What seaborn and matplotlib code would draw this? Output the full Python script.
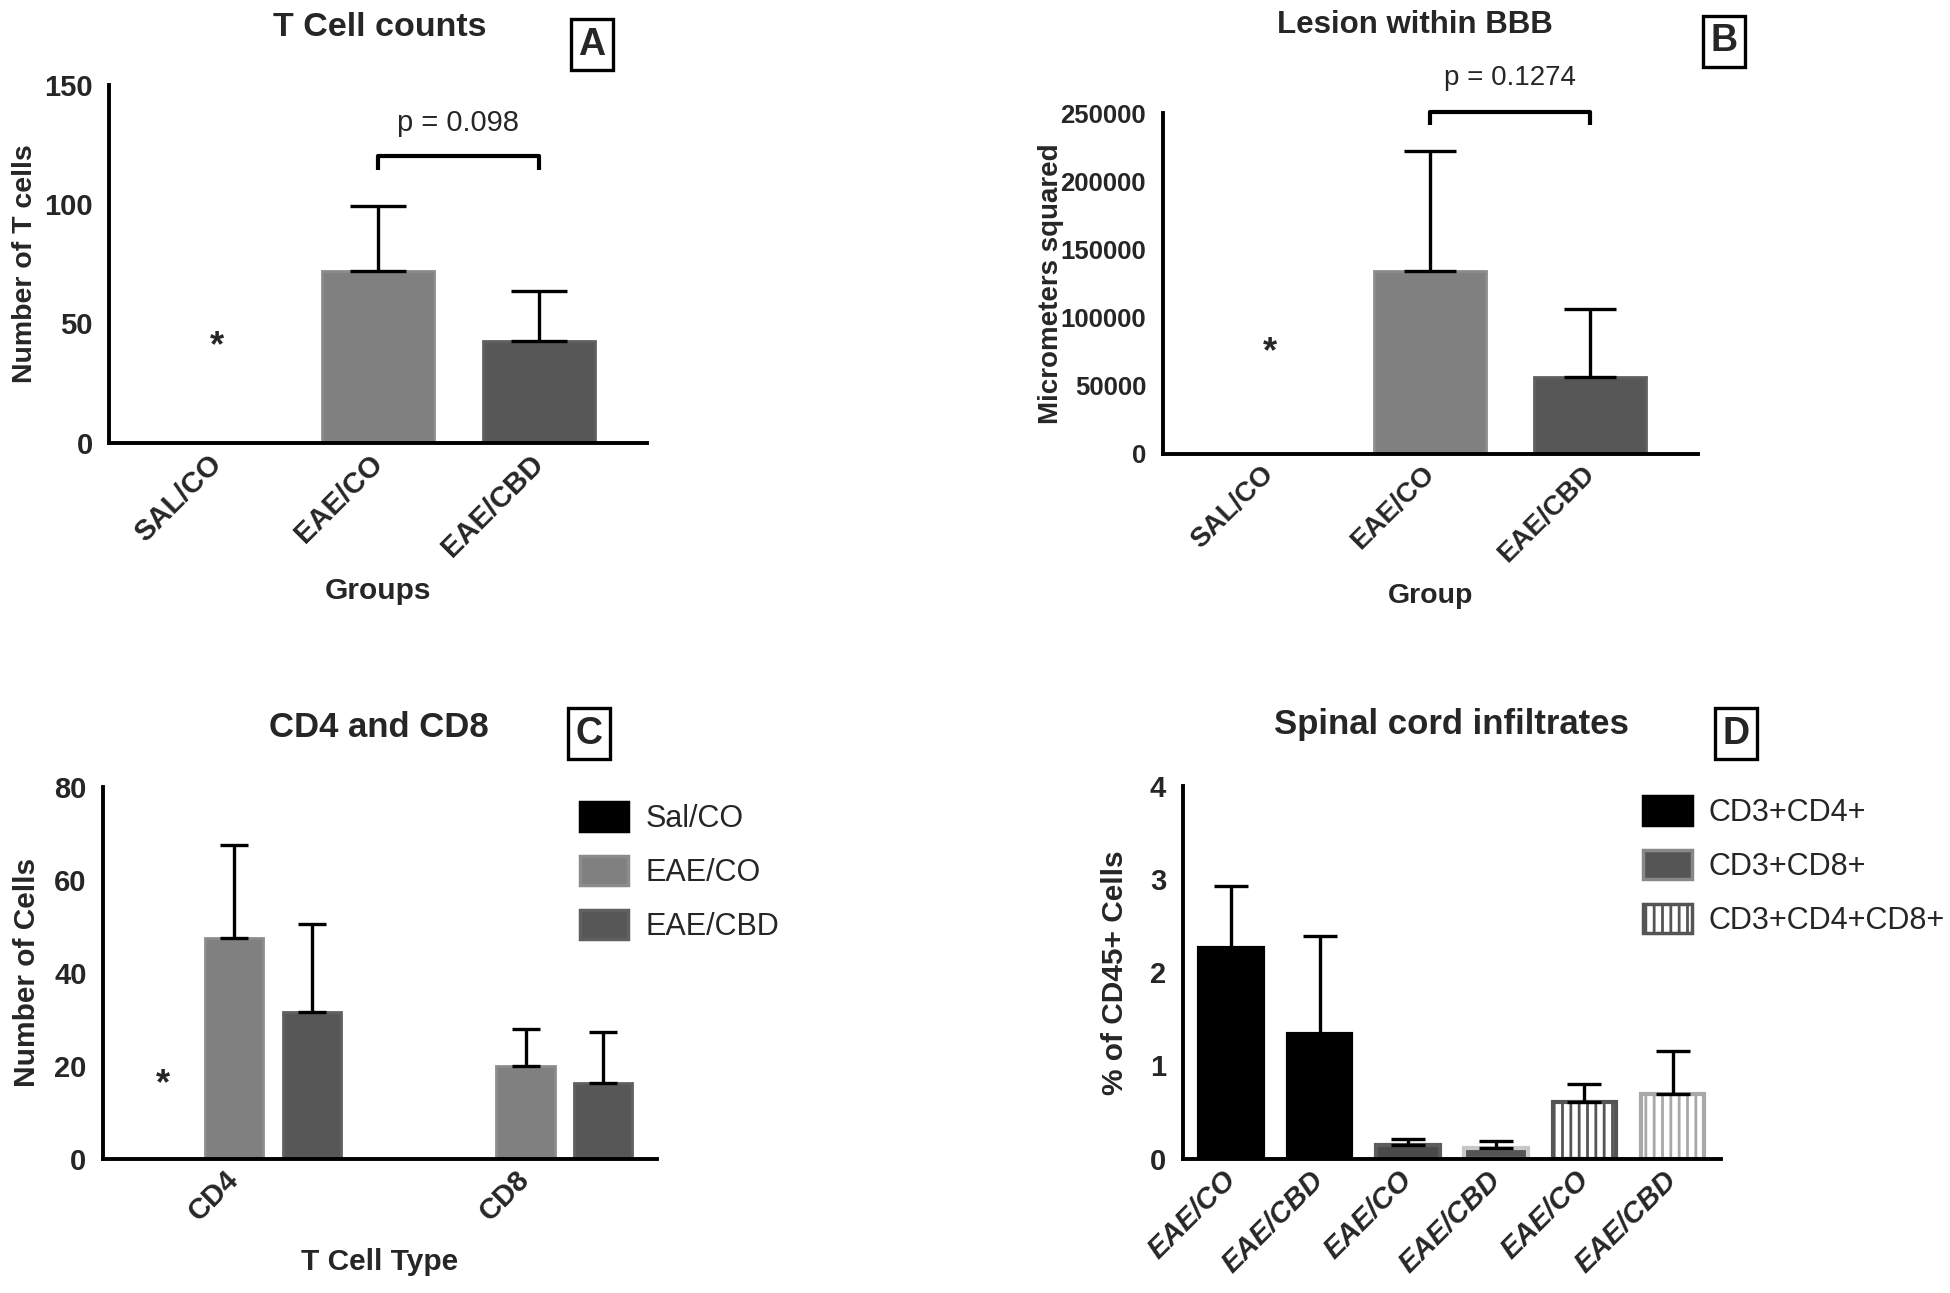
import numpy as np
import pandas as pd
import matplotlib
matplotlib.use("Agg")
import matplotlib.pyplot as plt
from matplotlib.patches import Patch
import seaborn as sns

# ---------------- data ----------------
a_groups = ["SAL/CO", "EAE/CO", "EAE/CBD"]
a_means = [0, 72, 42.5]
a_sem = [0, 27, 21]
a_star = 40
a_p_text = "p = 0.098"
a_bracket = 120
a_bracket_leg = 114
a_p_y = 134

b_groups = ["SAL/CO", "EAE/CO", "EAE/CBD"]
b_means = [0, 134500, 56000]
b_sem = [0, 87500, 50000]
b_star = 74000
b_p_text = "p = 0.1274"
b_bracket = 251000
b_bracket_leg = 241000
b_p_y = 276000

c_types = ["CD4", "CD8"]
c_groups = ["Sal/CO", "EAE/CO", "EAE/CBD"]
c_means = {"Sal/CO": [0, 0], "EAE/CO": [47.5, 20.0], "EAE/CBD": [31.5, 16.3]}
c_sem = {"Sal/CO": [0, 0], "EAE/CO": [20.0, 8.0], "EAE/CBD": [19.0, 11.0]}
c_star = 16

d_labels = ["EAE/CO", "EAE/CBD", "EAE/CO", "EAE/CBD", "EAE/CO", "EAE/CBD"]
d_types = ["CD3+CD4+", "CD3+CD4+", "CD3+CD8+", "CD3+CD8+", "CD3+CD4+CD8+", "CD3+CD4+CD8+"]
d_means = [2.26, 1.34, 0.15, 0.115, 0.61, 0.69]
d_sem = [0.66, 1.05, 0.06, 0.075, 0.19, 0.46]

# ---------------- style ----------------
sns.set_style("white")
plt.rcParams["font.family"] = ["Liberation Sans", "DejaVu Sans"]
plt.rcParams["hatch.linewidth"] = 2.0

SPINE_LW = 2.8

col_sal = "#000000"
col_co = "#808080"
col_cbd = "#575757"
edge_co = "#8c8c8c"
edge_cbd = "#606060"

fig = plt.figure(figsize=(19.5, 12.93), dpi=100)

W, H = 1568.0, 1040.0


def fx(x):
    return x / W


def fy(y):
    return 1 - y / H


def axes_rect(left, right, top, bottom):
    return [fx(left), fy(bottom), fx(right) - fx(left), fy(top) - fy(bottom)]


def style_axis(ax, tick_fs):
    sns.despine(ax=ax)
    for s in ["left", "bottom"]:
        ax.spines[s].set_linewidth(SPINE_LW)
        ax.spines[s].set_color("black")
    ax.tick_params(axis="both", which="major", direction="out", width=SPINE_LW,
                   color="black", labelsize=tick_fs, length=9, pad=3)
    for lbl in ax.get_xticklabels() + ax.get_yticklabels():
        lbl.set_fontweight("bold")


def add_errors(ax, patches, errs, capsize):
    for p, e in zip(patches, errs):
        if e <= 0:
            continue
        cx = p.get_x() + p.get_width() / 2
        h = p.get_height()
        ax.errorbar(cx, h, yerr=[[0], [e]], fmt="none", ecolor="black",
                    elinewidth=2.4, capsize=capsize, capthick=2.4, zorder=1)


def sorted_patches(ax):
    return sorted([p for p in ax.patches], key=lambda p: p.get_x())


def bracket(ax, x0, x1, y, yleg, text, ty, fs):
    ax.plot([x0, x0, x1, x1], [yleg, y, y, yleg], color="black", lw=3,
            clip_on=False, solid_capstyle="butt")
    ax.text((x0 + x1) / 2, ty, text, ha="center", va="center", fontsize=fs,
            clip_on=False)


def boxed_letter(x, y, s):
    fig.text(fx(x), fy(y), s, ha="center", va="center", fontsize=27,
             fontweight="bold",
             bbox=dict(boxstyle="square,pad=0.2", fc="white", ec="black", lw=2.4))


# ---------------- Panel A ----------------
axA = fig.add_axes(axes_rect(88, 520, 68, 356))
dfA = pd.DataFrame({"group": a_groups, "value": a_means})
palA = {"SAL/CO": col_sal, "EAE/CO": col_co, "EAE/CBD": col_cbd}
sns.barplot(data=dfA, x="group", y="value", hue="group", order=a_groups,
            hue_order=a_groups, palette=palA, width=0.7, errorbar=None,
            legend=False, ax=axA, saturation=1)
pa = sorted_patches(axA)
for p, g in zip(pa, a_groups):
    p.set_edgecolor({"SAL/CO": "black", "EAE/CO": edge_co, "EAE/CBD": edge_cbd}[g])
    p.set_linewidth(2)
add_errors(axA, pa, a_sem, 20)
axA.set_ylim(0, 150)
axA.set_xlim(-0.67, 2.67)
axA.set_yticks([0, 50, 100, 150])
axA.set_xlabel("Groups", fontsize=21.5, fontweight="bold")
axA.set_ylabel("Number of T cells", fontsize=20.5, fontweight="bold")
style_axis(axA, 21)
plt.setp(axA.get_xticklabels(), rotation=45, ha="right", va="center",
         rotation_mode="anchor")
axA.xaxis.set_label_coords(0.5, -0.375)
axA.yaxis.set_label_coords(-0.133, 0.5)
cA = [p.get_x() + p.get_width() / 2 for p in pa]
axA.text(cA[0], a_star, "*", ha="center", va="center", fontsize=26, fontweight="bold")
bracket(axA, cA[1], cA[2], a_bracket, a_bracket_leg, a_p_text, a_p_y, 21)
fig.text(fx(305), fy(22), "T Cell counts", ha="center", va="center",
         fontsize=24.5, fontweight="bold")
boxed_letter(476, 36, "A")

# ---------------- Panel B ----------------
axB = fig.add_axes(axes_rect(935, 1365, 91, 365))
dfB = pd.DataFrame({"group": b_groups, "value": b_means})
sns.barplot(data=dfB, x="group", y="value", hue="group", order=b_groups,
            hue_order=b_groups, palette=palA, width=0.7, errorbar=None,
            legend=False, ax=axB, saturation=1)
pb = sorted_patches(axB)
for p, g in zip(pb, b_groups):
    p.set_edgecolor({"SAL/CO": "black", "EAE/CO": edge_co, "EAE/CBD": edge_cbd}[g])
    p.set_linewidth(2)
add_errors(axB, pb, b_sem, 19)
axB.set_ylim(0, 250000)
axB.set_xlim(-0.67, 2.67)
axB.set_yticks([0, 50000, 100000, 150000, 200000, 250000])
axB.set_yticklabels(["0", "50000", "100000", "150000", "200000", "250000"])
axB.set_xlabel("Group", fontsize=20.5, fontweight="bold")
axB.set_ylabel("Micrometers squared", fontsize=20, fontweight="bold")
style_axis(axB, 18.5)
plt.setp(axB.get_xticklabels(), rotation=45, ha="right", va="center",
         rotation_mode="anchor")
for lbl in axB.get_xticklabels():
    lbl.set_fontsize(20)
axB.xaxis.set_label_coords(0.5, -0.38)
axB.yaxis.set_label_coords(-0.185, 0.5)
cB = [p.get_x() + p.get_width() / 2 for p in pb]
axB.text(cB[0], b_star, "*", ha="center", va="center", fontsize=26, fontweight="bold")
bracket(axB, cB[1], cB[2], b_bracket, b_bracket_leg, b_p_text, b_p_y, 20)
fig.text(fx(1138), fy(20), "Lesion within BBB", ha="center", va="center",
         fontsize=22.5, fontweight="bold")
boxed_letter(1386, 33, "B")

# ---------------- Panel C ----------------
axC = fig.add_axes(axes_rect(83, 528, 633, 932))
rows = []
for ti, t in enumerate(c_types):
    for g in c_groups:
        rows.append({"type": t, "group": g, "value": c_means[g][ti], "err": c_sem[g][ti]})
dfC = pd.DataFrame(rows)
palC = {"Sal/CO": col_sal, "EAE/CO": col_co, "EAE/CBD": col_cbd}
edgeC = {"Sal/CO": "black", "EAE/CO": edge_co, "EAE/CBD": edge_cbd}
sns.barplot(data=dfC, x="type", y="value", hue="group", order=c_types,
            hue_order=c_groups, palette=palC, width=0.8, gap=0.25,
            errorbar=None, legend=False, ax=axC, saturation=1)
pc = sorted_patches(axC)
for p, g in zip(pc, dfC["group"]):
    p.set_edgecolor(edgeC[g])
    p.set_linewidth(2)
add_errors(axC, pc, list(dfC["err"]), 10)
axC.set_ylim(0, 80)
axC.set_xlim(-0.45, 1.45)
axC.set_yticks([0, 20, 40, 60, 80])
axC.set_xlabel("T Cell Type", fontsize=21.5, fontweight="bold")
axC.set_ylabel("Number of Cells", fontsize=21.5, fontweight="bold")
style_axis(axC, 21)
plt.setp(axC.get_xticklabels(), rotation=45, ha="right", va="center",
         rotation_mode="anchor")
axC.xaxis.set_label_coords(0.5, -0.24)
axC.yaxis.set_label_coords(-0.113, 0.5)
sal_cd4 = pc[0]
axC.text(sal_cd4.get_x() + sal_cd4.get_width() * 0.6, c_star, "*", ha="center",
         va="center", fontsize=26, fontweight="bold")
handlesC = [Patch(facecolor=palC[g], edgecolor=edgeC[g], linewidth=2.5, label=g)
            for g in c_groups]
axC.legend(handles=handlesC, loc="upper left", bbox_to_anchor=(fx(466), fy(645)),
           bbox_transform=fig.transFigure, frameon=False, fontsize=22,
           handlelength=1.6, handleheight=1.1, handletextpad=0.55,
           labelspacing=0.72, borderpad=0, borderaxespad=0)
fig.text(fx(305), fy(585), "CD4 and CD8", ha="center", va="center",
         fontsize=25, fontweight="bold")
boxed_letter(474, 590, "C")

# ---------------- Panel D ----------------
axD = fig.add_axes(axes_rect(951, 1384, 632, 932))
d_keys = [f"{t}|{l}" for t, l in zip(d_types, d_labels)]
dfD = pd.DataFrame({"key": d_keys, "type": d_types, "value": d_means})
fillD = ["#000000", "#000000", "#4a4a4a", "#555555", "#ffffff", "#ffffff"]
edgeD = ["#000000", "#000000", "#5c5c5c", "#c8c8c8", "#555555", "#a8a8a8"]
hatchD = [None, None, None, None, "||", "||"]
sns.barplot(data=dfD, x="key", y="value", hue="key", order=d_keys,
            hue_order=d_keys, palette=dict(zip(d_keys, fillD)), width=0.72,
            errorbar=None, legend=False, ax=axD, saturation=1)
pd_ = sorted_patches(axD)
for p, f, e, h in zip(pd_, fillD, edgeD, hatchD):
    p.set_facecolor(f)
    p.set_edgecolor(e)
    p.set_linewidth(3)
    if h:
        p.set_hatch(h)
add_errors(axD, pd_, d_sem, 12)
axD.set_ylim(0, 4)
axD.set_xlim(-0.55, 5.55)
axD.set_yticks([0, 1, 2, 3, 4])
axD.set_xticks(range(len(d_labels)))
axD.set_xticklabels(d_labels)
axD.set_xlabel("")
axD.set_ylabel("% of CD45+ Cells", fontsize=21.5, fontweight="bold")
style_axis(axD, 21)
plt.setp(axD.get_xticklabels(), rotation=45, ha="right", va="center",
         rotation_mode="anchor", fontstyle="italic")
axD.yaxis.set_label_coords(-0.1, 0.5)
handlesD = [
    Patch(facecolor="#000000", edgecolor="#000000", linewidth=2.5, label="CD3+CD4+"),
    Patch(facecolor="#555555", edgecolor="#888888", linewidth=2.5, label="CD3+CD8+"),
    Patch(facecolor="#ffffff", edgecolor="#555555", linewidth=2.5, hatch="||",
          label="CD3+CD4+CD8+"),
]
axD.legend(handles=handlesD, loc="upper left", bbox_to_anchor=(fx(1321), fy(640)),
           bbox_transform=fig.transFigure, frameon=False, fontsize=22,
           handlelength=1.6, handleheight=1.1, handletextpad=0.55,
           labelspacing=0.72, borderpad=0, borderaxespad=0)
fig.text(fx(1167), fy(583), "Spinal cord infiltrates", ha="center", va="center",
         fontsize=25, fontweight="bold")
boxed_letter(1396, 590, "D")

fig.savefig("out.png", dpi=100, facecolor="white")
